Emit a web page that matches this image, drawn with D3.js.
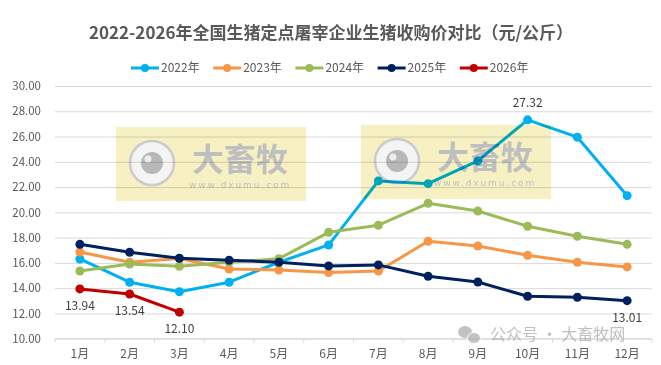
<!DOCTYPE html>
<html>
<head>
<meta charset="utf-8">
<script src="https://cdn.jsdelivr.net/npm/d3@7"></script>
<style>
  html, body { margin: 0; padding: 0; background: #fff; }
  svg { display: block; font-family: "Noto Sans CJK SC", "Noto Sans", sans-serif; }
</style>
</head>
<body>
<div id="chart"></div>
<script>
// data
const months = ["1月", "2月", "3月", "4月", "5月", "6月", "7月", "8月", "9月", "10月", "11月", "12月"];
const seriesNames = ["2022年", "2023年", "2024年", "2025年", "2026年"];
const seriesColors = ["#00B0F0", "#F79646", "#9BBB59", "#002060", "#C00000"];
const values2022 = [16.31, 14.47, 13.72, 14.47, 16.05, 17.42, 22.49, 22.27, 24.07, 27.32, 25.95, 21.32];
const values2023 = [16.86, 16.05, 16.35, 15.52, 15.44, 15.23, 15.36, 17.71, 17.34, 16.60, 16.05, 15.68];
const values2024 = [15.36, 15.91, 15.73, 16.05, 16.33, 18.42, 18.98, 20.72, 20.11, 18.90, 18.11, 17.47];
const values2025 = [17.47, 16.84, 16.37, 16.21, 16.05, 15.76, 15.84, 14.94, 14.49, 13.36, 13.28, 13.01];
const values2026 = [13.94, 13.54, 12.10];
const yTicks = [10, 12, 14, 16, 18, 20, 22, 24, 26, 28, 30];
// which points carry a value label: [series index, month index, above?]
const pointLabels = [[4, 0, false], [4, 1, false], [4, 2, false], [0, 9, true], [3, 11, false]];

const W = 661, H = 365;
const margin = { top: 86, left: 55, right: 9, bottom: 26.3 };
const textColor = "#595959";
const gridColor = "#d9d9d9";

const allValues = [values2022, values2023, values2024, values2025, values2026];
const series = seriesNames.map((name, i) => ({
    name,
    color: seriesColors[i],
    points: allValues[i].map((v, j) => ({ month: months[j], value: v }))
}));

const svg = d3.select("#chart").append("svg")
    .attr("width", W)
    .attr("height", H)
    .attr("viewBox", `0 0 ${ W } ${ H }`);

const x = d3.scaleBand()
    .domain(months)
    .range([margin.left, W - margin.right]);

const y = d3.scaleLinear()
    .domain([10, 30])
    .range([H - margin.bottom, margin.top]);

const cx = m => x(m) + x.bandwidth() / 2;

// title
svg.append("text")
    .attr("x", 331)
    .attr("y", 39)
    .attr("text-anchor", "middle")
    .attr("fill", textColor)
    .style("font-size", "17px")
    .style("font-weight", "bold")
    .text("2022-2026年全国生猪定点屠宰企业生猪收购价对比（元/公斤）");

// legend
const legend = svg.append("g").attr("class", "legend");
const legendItem = legend.selectAll("g")
    .data(series)
    .enter()
    .append("g")
    .attr("transform", (d, i) => `translate(${ 131 + i * 82.2 }, 68)`);
legendItem.append("line")
    .attr("x1", 0).attr("x2", 28)
    .attr("stroke", d => d.color)
    .attr("stroke-width", 3);
legendItem.append("circle")
    .attr("cx", 14).attr("r", 4)
    .attr("fill", d => d.color);
legendItem.append("text")
    .attr("x", 30)
    .attr("dy", "0.35em")
    .attr("fill", textColor)
    .style("font-size", "12px")
    .text(d => d.name);

// y gridlines + labels
const yAxis = d3.axisLeft(y)
    .tickValues(yTicks)
    .tickFormat(d3.format(".2f"))
    .tickSize(-(W - margin.left - margin.right))
    .tickPadding(14);
const yAxisG = svg.append("g")
    .attr("transform", `translate(${ margin.left },0)`)
    .call(yAxis);
yAxisG.select(".domain").remove();
yAxisG.selectAll(".tick line").attr("stroke", gridColor);
yAxisG.selectAll(".tick text")
    .attr("fill", textColor)
    .style("font-size", "11.5px")
    .style("font-family", "'Noto Sans CJK SC', sans-serif");

// x axis with ticks at the band edges
const xAxisG = svg.append("g")
    .attr("transform", `translate(0,${ y(10) })`);
xAxisG.append("line")
    .attr("x1", margin.left).attr("x2", W - margin.right)
    .attr("stroke", gridColor);
xAxisG.selectAll(".edge")
    .data(months.concat(["end"]))
    .enter()
    .append("line")
    .attr("class", "edge")
    .attr("x1", (d, i) => margin.left + i * x.step())
    .attr("x2", (d, i) => margin.left + i * x.step())
    .attr("y1", 0).attr("y2", 4)
    .attr("stroke", gridColor);
xAxisG.selectAll(".month")
    .data(months)
    .enter()
    .append("text")
    .attr("class", "month")
    .attr("x", d => cx(d))
    .attr("y", 19)
    .attr("text-anchor", "middle")
    .attr("fill", textColor)
    .style("font-size", "12px")
    .text(d => d);

// lines and markers
const line = d3.line()
    .x(d => cx(d.month))
    .y(d => y(d.value));

const seriesG = svg.append("g").attr("class", "series")
    .selectAll("g")
    .data(series)
    .enter()
    .append("g");
seriesG.append("path")
    .attr("d", d => line(d.points))
    .attr("fill", "none")
    .attr("stroke", d => d.color)
    .attr("stroke-width", 3)
    .attr("stroke-linejoin", "round");
seriesG.selectAll("circle")
    .data(d => d.points.map(p => ({ ...p, color: d.color })))
    .enter()
    .append("circle")
    .attr("cx", d => cx(d.month))
    .attr("cy", d => y(d.value))
    .attr("r", 4.5)
    .attr("fill", d => d.color);

// value labels
svg.append("g").selectAll("text")
    .data(pointLabels)
    .enter()
    .append("text")
    .attr("x", d => cx(months[d[1]]))
    .attr("y", d => y(allValues[d[0]][d[1]]) + (d[2] ? -17 : 17))
    .attr("dy", "0.35em")
    .attr("text-anchor", "middle")
    .attr("fill", "#404040")
    .style("font-size", "12px")
    .text(d => allValues[d[0]][d[1]].toFixed(2));

// watermarks (multiply so lines show through tinted)
function watermark(tx, ty) {
    const g = svg.append("g")
        .attr("transform", `translate(${ tx },${ ty })`)
        .style("mix-blend-mode", "multiply");
    g.append("rect")
        .attr("width", 190).attr("height", 74)
        .attr("fill", "#f6f0c2");
    g.append("circle")
        .attr("cx", 36).attr("cy", 36).attr("r", 22)
        .attr("fill", "#f4f4f4")
        .attr("stroke", "#cbcbcb")
        .attr("stroke-width", 2.5);
    g.append("circle")
        .attr("cx", 36).attr("cy", 36).attr("r", 11)
        .attr("fill", "#b8b8b8");
    g.append("circle")
        .attr("cx", 32).attr("cy", 32).attr("r", 3.5)
        .attr("fill", "#eeeeee");
    g.append("text")
        .attr("x", 124).attr("y", 44)
        .attr("text-anchor", "middle")
        .attr("fill", "#bfbfbf")
        .style("font-size", "32px")
        .style("font-weight", "bold")
        .text("大畜牧");
    g.append("text")
        .attr("x", 124).attr("y", 61)
        .attr("text-anchor", "middle")
        .attr("fill", "#c2c2c2")
        .style("font-size", "9px")
        .style("letter-spacing", "1.9px")
        .style("font-family", "'DejaVu Sans', sans-serif")
        .text("www.dxumu.com");
}
watermark(116, 127);
watermark(361, 125);

// bottom right account mark
const mark = svg.append("g").attr("opacity", 0.75);
mark.append("ellipse")
    .attr("cx", 465).attr("cy", 332).attr("rx", 7).attr("ry", 6)
    .attr("fill", "#b0b0b0");
mark.append("ellipse")
    .attr("cx", 474).attr("cy", 338).attr("rx", 6.5).attr("ry", 5.5)
    .attr("fill", "#b0b0b0")
    .attr("stroke", "#fff")
    .attr("stroke-width", 1);
mark.append("text")
    .attr("x", 490).attr("y", 340)
    .attr("fill", "#aaaaaa")
    .style("font-size", "16px")
    .text("公众号 · 大畜牧网");
</script>
</body>
</html>
